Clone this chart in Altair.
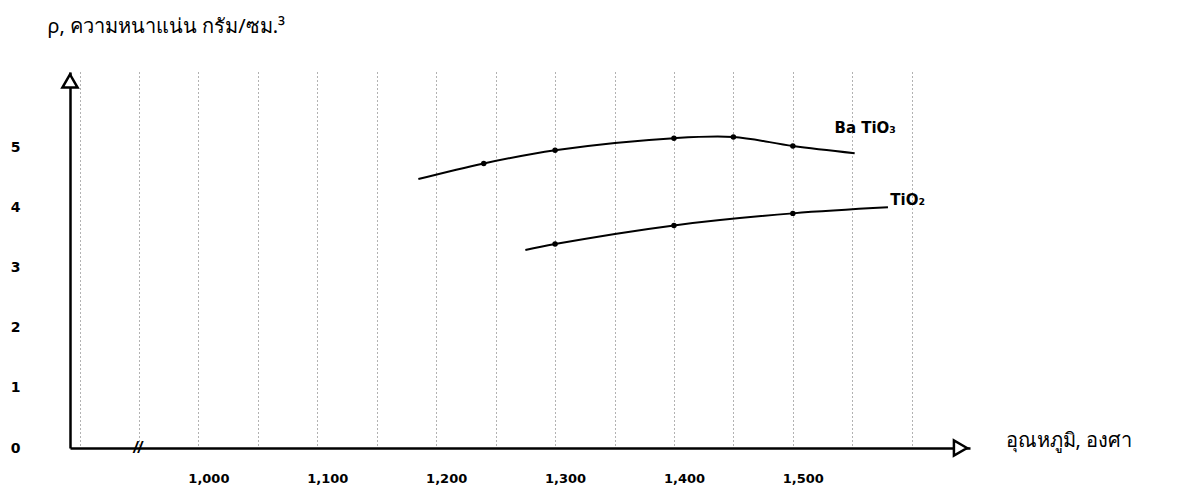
import altair as alt
import pandas as pd

# BaTiO3 curve (temperature, density)
ba_temp = [1185, 1240, 1300, 1400, 1450, 1500, 1552]
ba_rho = [4.47, 4.73, 4.95, 5.15, 5.17, 5.02, 4.90]
ba_dot = [False, True, True, True, True, True, False]

# TiO2 curve
ti_temp = [1275, 1300, 1400, 1500, 1580]
ti_rho = [3.29, 3.39, 3.70, 3.90, 4.00]
ti_dot = [False, True, True, True, False]

y_ticks = [0, 1, 2, 3, 4, 5]
grid_values = list(range(900, 1650, 25))

df = pd.concat([
    pd.DataFrame({"t": ba_temp, "rho": ba_rho, "dot": ba_dot, "s": "BaTiO3"}),
    pd.DataFrame({"t": ti_temp, "rho": ti_rho, "dot": ti_dot, "s": "TiO2"}),
])

labels = pd.DataFrame({
    "t": [1535, 1582],
    "rho": [5.32, 4.12],
    "txt": ["Ba TiO₃", "TiO₂"],
})

xs = alt.Scale(domain=[892, 1649], nice=False, zero=False)
ys = alt.Scale(domain=[0, 6.25], nice=False, zero=True)

FONT = "DejaVu Sans"

x_axis = alt.Axis(
    values=grid_values,
    labelExpr="(datum.value % 100 == 0 && datum.value >= 1000 && datum.value <= 1500) ? format(datum.value, ',') : ''",
    labelOverlap=False,
    grid=True, gridColor="#222", gridDash=[1, 3], gridWidth=1, gridOpacity=0.7,
    domainColor="black", domainWidth=2.5,
    ticks=False, tickSize=0,
    labelPadding=24, labelFont=FONT, labelFontSize=13, labelFontWeight="bold",
    labelColor="black", labelOffset=10,
    title="อุณหภูมิ, องศา", titleX=935, titleY=-8, titleAlign="left",
    titleBaseline="middle", titleFontWeight="normal", titleFontSize=20,
    titleColor="black", titleFont="Noto Sans",
)

y_axis = alt.Axis(
    values=y_ticks, format="d", grid=False,
    domainColor="black", domainWidth=2.5,
    ticks=False, tickSize=0,
    labelPadding=55, labelAlign="center", labelFont=FONT, labelFontSize=14,
    labelFontWeight="bold", labelColor="black",
    title="ρ, ความหนาแน่น กรัม/ซม.³", titleAngle=0, titleX=-23, titleY=-46,
    titleAlign="left", titleBaseline="middle", titleFontWeight="normal",
    titleFontSize=20, titleColor="black", titleFont="Noto Sans",
)

base = alt.Chart(df)

lines = base.mark_line(color="black", strokeWidth=2, interpolate="catmull-rom").encode(
    x=alt.X("t:Q", scale=xs, axis=x_axis),
    y=alt.Y("rho:Q", scale=ys, axis=y_axis),
    detail="s:N",
)

dots = base.transform_filter("datum.dot").mark_circle(color="black", size=30, opacity=1).encode(
    x=alt.X("t:Q", scale=xs),
    y=alt.Y("rho:Q", scale=ys),
)

text = alt.Chart(labels).mark_text(
    align="left", baseline="middle", font=FONT, fontSize=15, fontWeight="bold", color="black"
).encode(
    x=alt.X("t:Q", scale=xs),
    y=alt.Y("rho:Q", scale=ys),
    text="txt:N",
)

arrow_up = alt.Chart(pd.DataFrame({"a": [0]})).mark_point(
    shape="triangle-up", filled=True, fill="white", stroke="black", strokeWidth=2.5,
    size=230, opacity=1
).encode(x=alt.datum(892, scale=xs), y=alt.datum(6.1, scale=ys))

arrow_right = alt.Chart(pd.DataFrame({"a": [0]})).mark_point(
    shape="triangle-right", filled=True, fill="white", stroke="black", strokeWidth=2.5,
    size=230, opacity=1
).encode(x=alt.datum(1641, scale=xs), y=alt.datum(0, scale=ys))

brk = alt.Chart(pd.DataFrame({"a": [0]})).mark_text(
    text="//", fontSize=16, fontWeight="bold", fontStyle="italic", color="black"
).encode(x=alt.datum(949, scale=xs), y=alt.datum(0, scale=ys))

chart = alt.layer(lines, dots, text, arrow_up, arrow_right, brk).properties(
    width=900, height=376,
    autosize=alt.AutoSizeParams(type="none"),
    padding={"left": 62, "top": 64, "right": 201, "bottom": 43},
    background="white",
).configure_view(stroke=None)

chart.save("out.html", embed_options={"renderer": "svg", "actions": False})
